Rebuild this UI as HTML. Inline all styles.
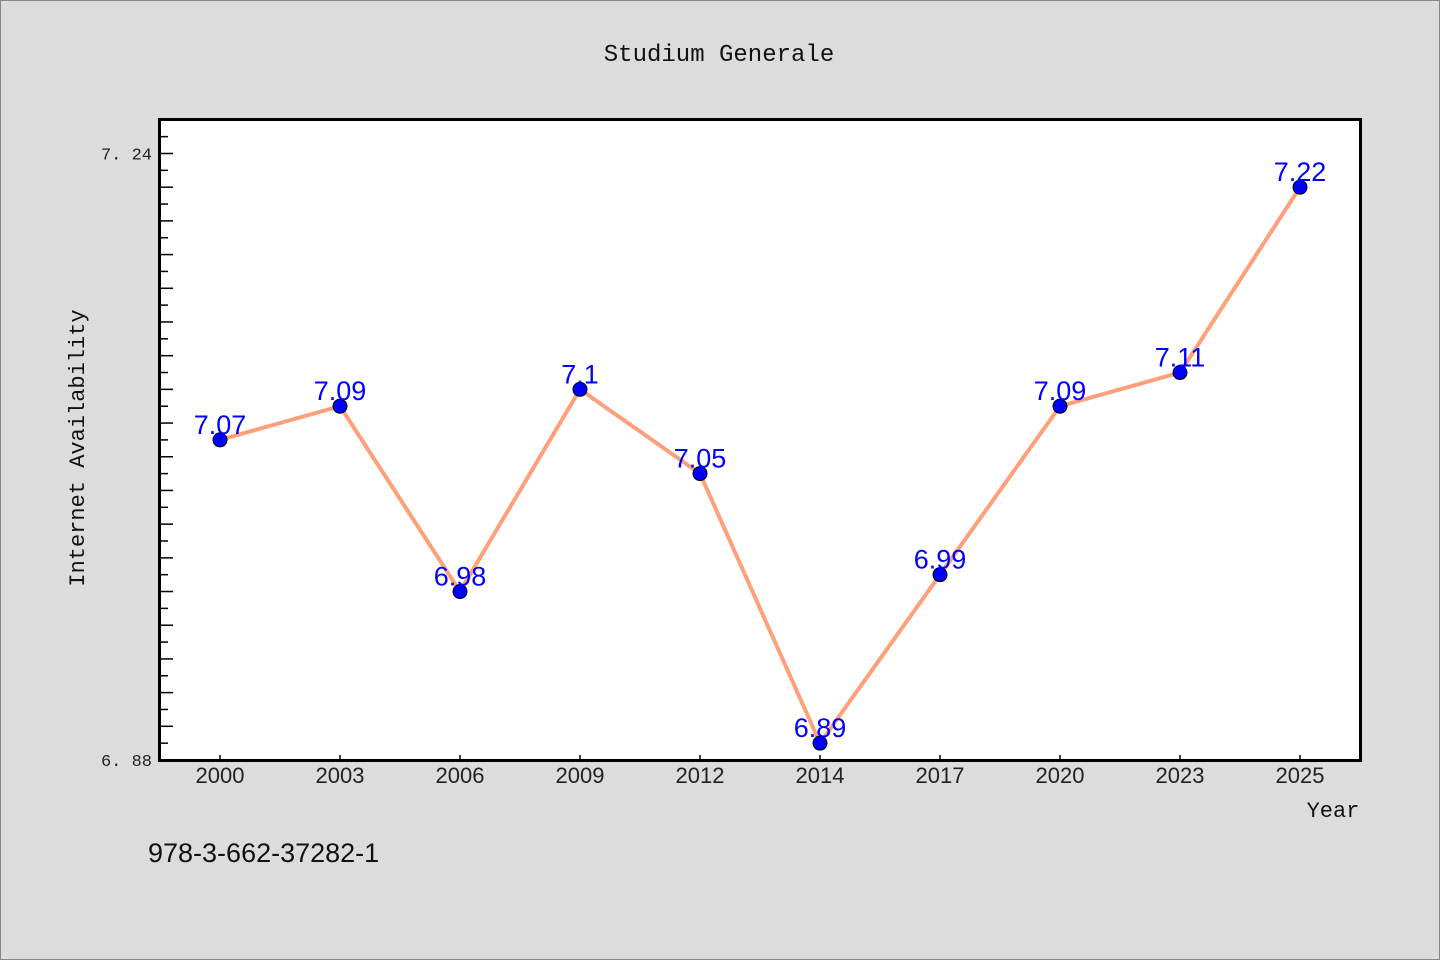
<!DOCTYPE html>
<html><head><meta charset="utf-8"><style>
body{margin:0;background:#dcdcdc;}
svg{display:block;font-family:"Liberation Mono","Noto Sans CJK SC",monospace;}
</style></head><body>
<svg width="1440" height="960" viewBox="0 0 1440 960">
<rect x="0.5" y="0.5" width="1439" height="959" fill="#dcdcdc" stroke="#888"/>
<text x="719" y="61" text-anchor="middle" font-size="24" fill="#111">Studium Generale</text>
<rect x="159.5" y="119.5" width="1201" height="641" fill="#fff" stroke="#000" stroke-width="3"/>
<g id="ticks"></g>
<g id="series"></g>
<text x="1333" y="817" text-anchor="middle" font-size="22" fill="#111">Year</text>
<text transform="translate(84,448) rotate(-90)" text-anchor="middle" font-size="22" fill="#111">Internet Availability</text>
<text x="148" y="862" font-size="27" fill="#111" font-family="Liberation Sans, sans-serif">978-3-662-37282-1</text>
</svg>
<script>
const categories=["2000","2003","2006","2009","2012","2014","2017","2020","2023","2025"];
const values=[7.07,7.09,6.98,7.1,7.05,6.89,6.99,7.09,7.11,7.22];
const labels=["7.07","7.09","6.98","7.1","7.05","6.89","6.99","7.09","7.11","7.22"];
const yTickLabels=["7.24","6.88"];
const yMin=6.88,yMax=7.24;
const NS="http://www.w3.org/2000/svg";
const X0=160,X1=1360,Y0=760,Y1=153.5;
const xs=i=>X0+(X1-X0)/categories.length*(i+0.5);
const ys=v=>Y0-(v-yMin)/(yMax-yMin)*(Y0-Y1);
function mk(t,a,p){const e=document.createElementNS(NS,t);for(const k in a)e.setAttribute(k,a[k]);p.appendChild(e);return e;}
const tg=document.getElementById('ticks'),sg=document.getElementById('series');
for(let k=-1;k<=36;k++){
 const v=yMax-k*0.01; if(v<yMin-1e-9)break;
 const y=ys(v); if(y<121)continue;
 const long=(k%2===0);
 const t=mk('line',{x1:160,x2:long?173:168,y1:y,y2:y,stroke:'#000','stroke-width':1.5},tg);
 
 
}
yTickLabels.forEach(s=>{
 const t=mk('text',{x:152,y:ys(parseFloat(s))+6,'text-anchor':'end','font-size':17,fill:'#222'},tg);
 t.textContent=s.replace('.','. ');
 
 
});
categories.forEach((c,i)=>{
 const l=mk('line',{x1:xs(i),x2:xs(i),y1:760,y2:755,stroke:'#000','stroke-width':1.5},tg);
 
 
 const t=mk('text',{x:xs(i),y:783,'text-anchor':'middle','font-size':22,fill:'#222','font-family':'Liberation Sans, sans-serif'},tg);
 t.textContent=c;
 
 
});
const line=mk('polyline',{points:values.map((v,i)=>xs(i)+','+ys(v)).join(' '),fill:'none',stroke:'#ffa07a','stroke-width':4},sg);


values.forEach((v,i)=>{
 const c=mk('circle',{cx:xs(i),cy:ys(v),r:7,fill:'#0000ff',stroke:'#000','stroke-width':1},sg);
 
 
 const t=mk('text',{x:xs(i),y:ys(v)-6,'text-anchor':'middle','font-size':27,fill:'#0000ff','font-family':'Liberation Sans, sans-serif'},sg);
 t.textContent=labels[i];
 
 
});
</script>
</body></html>
